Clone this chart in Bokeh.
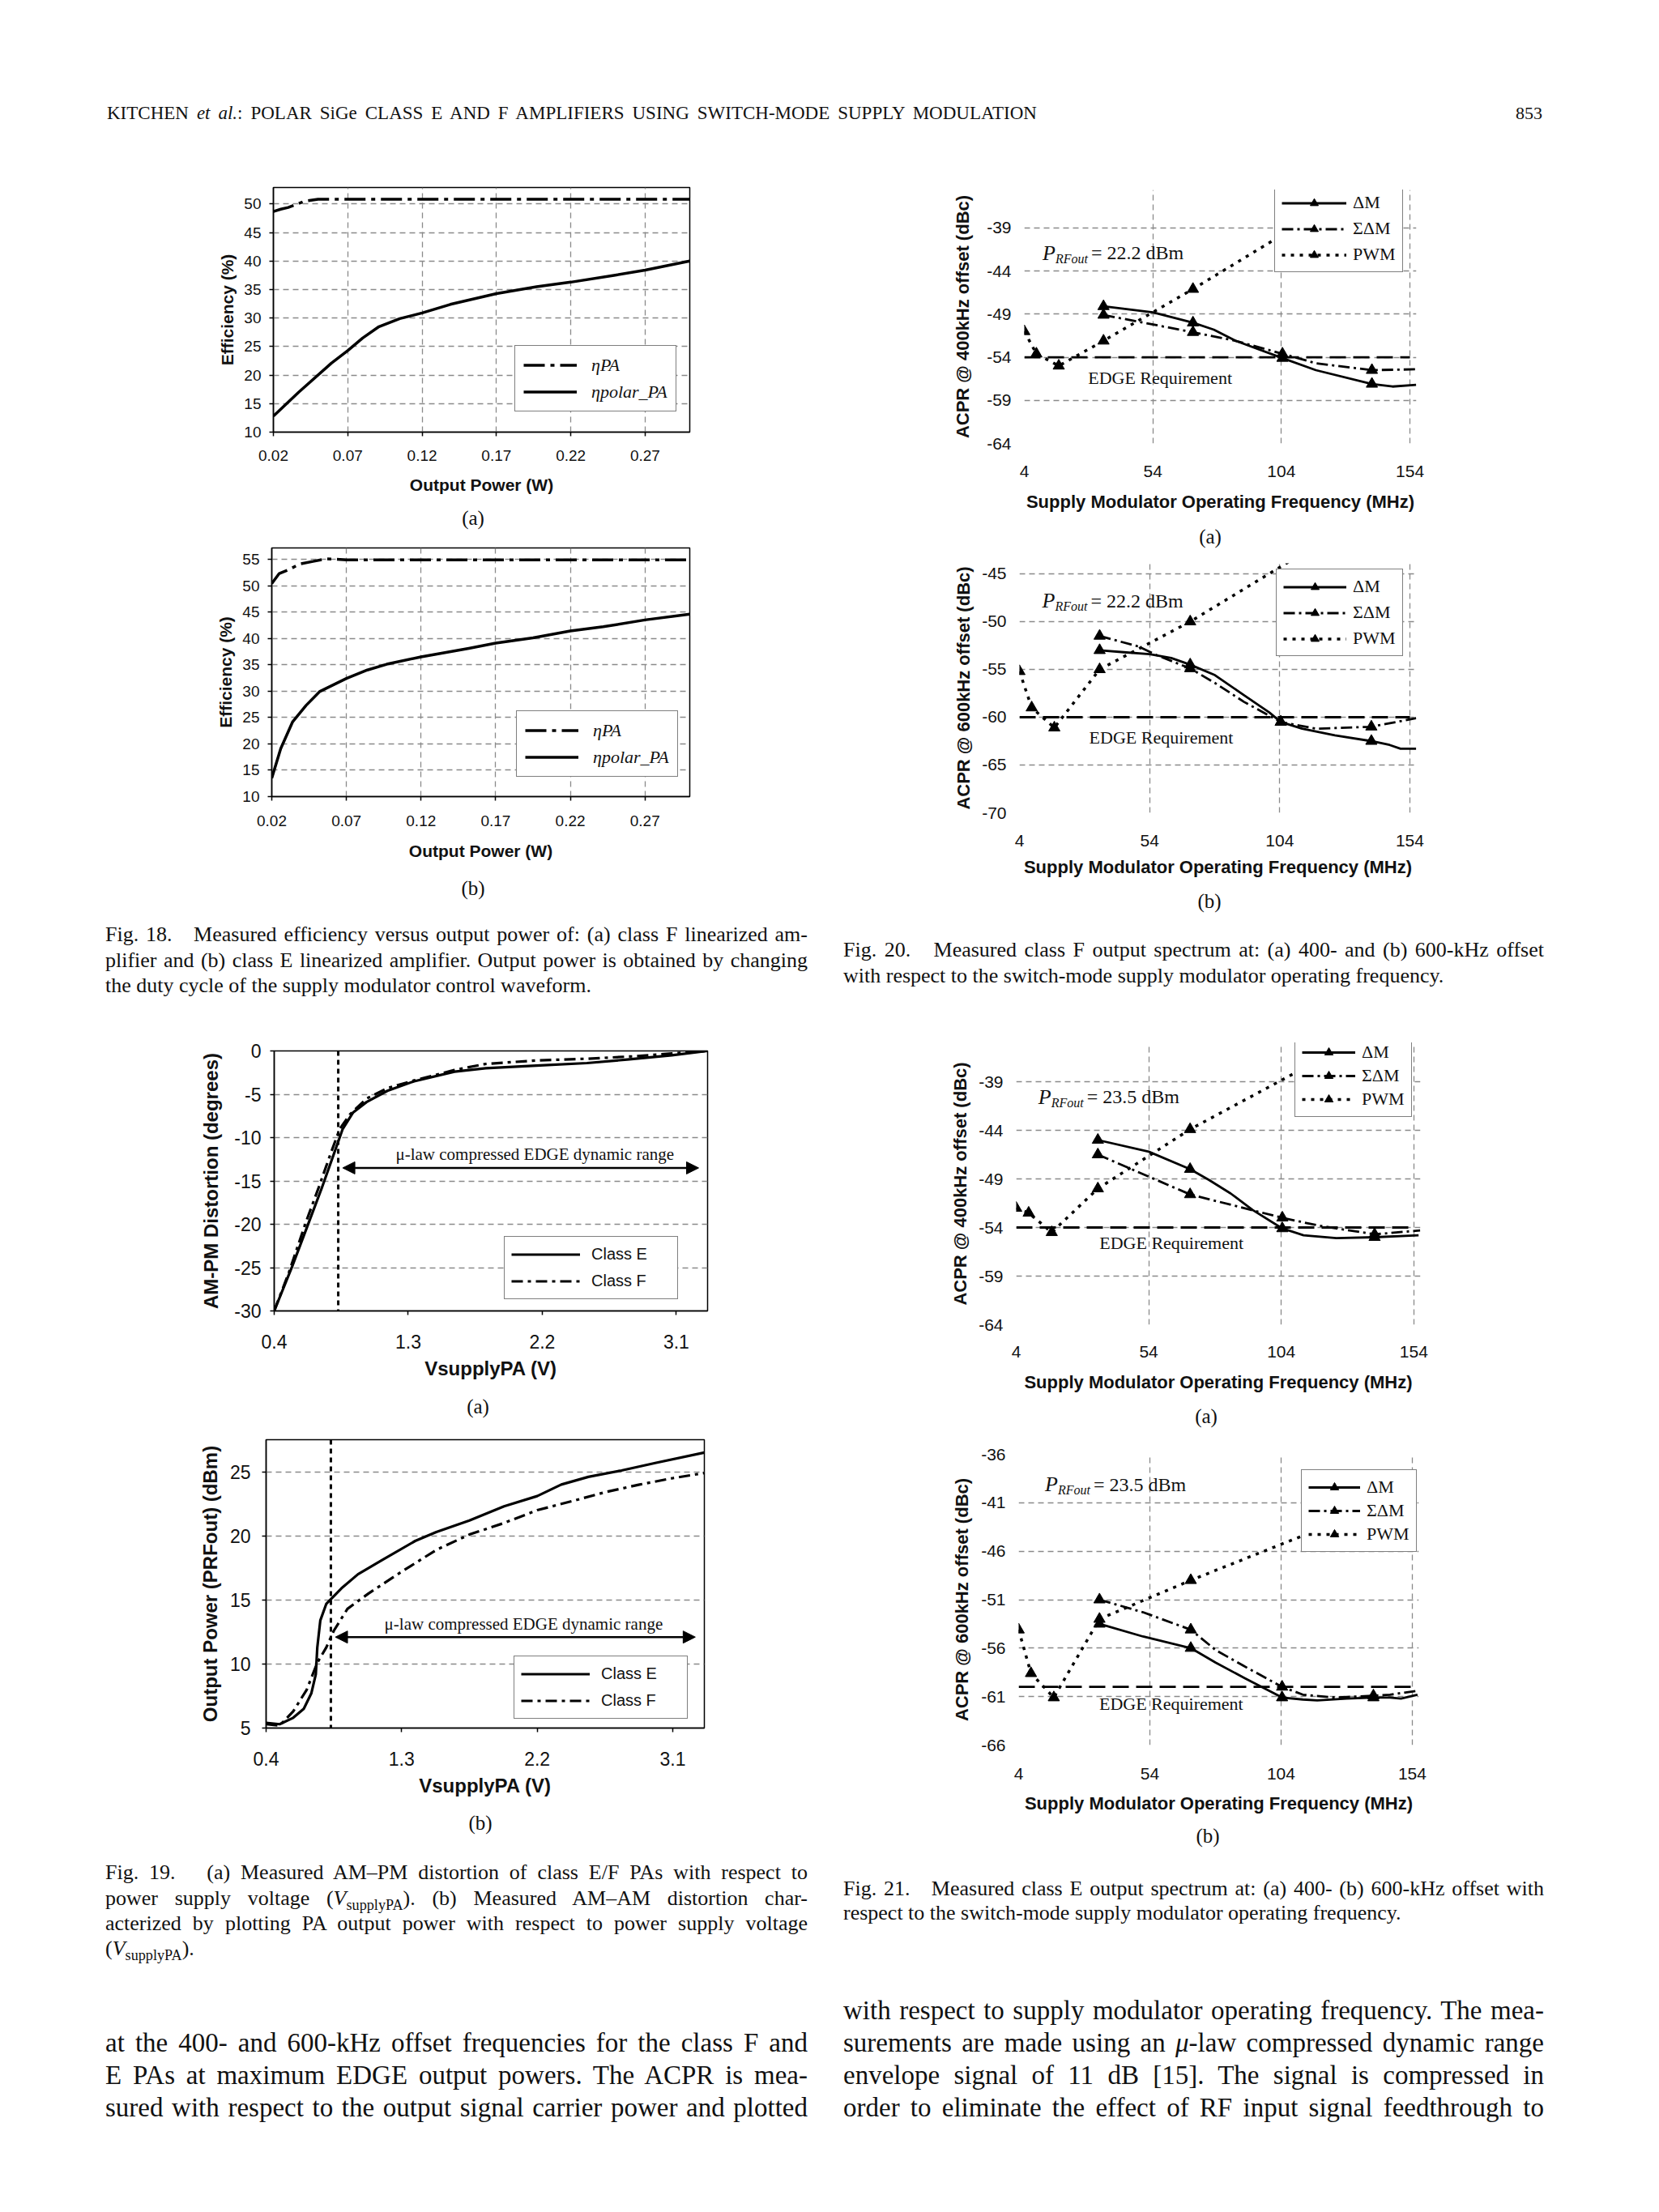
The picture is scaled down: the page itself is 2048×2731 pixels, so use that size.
from bokeh.plotting import figure
from bokeh.models import (Div, Legend, LegendItem, Label, Span, Arrow, NormalHead,
                          FixedTicker, PrintfTickFormatter, Range1d)
from bokeh.layouts import column, row
from bokeh.embed import file_html
from bokeh.resources import INLINE

SERIF = "Liberation Serif"
SANS = "Liberation Sans"
GRID_COLOR = "#8a8a8a"
GRID_DASH = "7 5"
INK = "#111111"

# ------------------------------------------------------------------ data
# Fig. 18 (efficiency vs output power)
f18_xticks = [0.02, 0.07, 0.12, 0.17, 0.22, 0.27]
f18a_yticks = [10, 15, 20, 25, 30, 35, 40, 45, 50]
f18b_yticks = [10, 15, 20, 25, 30, 35, 40, 45, 50, 55]
f18a_pa_x = [0.020, 0.025, 0.030, 0.035, 0.041, 0.050, 0.070, 0.120, 0.170, 0.220, 0.270, 0.300]
f18a_pa_y = [48.7, 49.1, 49.4, 49.9, 50.5, 50.85, 50.85, 50.85, 50.85, 50.85, 50.85, 50.85]
f18a_polar_x = [0.020, 0.037, 0.059, 0.070, 0.080, 0.091, 0.105, 0.120, 0.139, 0.170, 0.197, 0.220, 0.249, 0.270, 0.300]
f18a_polar_y = [12.8, 17.0, 22.1, 24.3, 26.5, 28.5, 29.9, 30.9, 32.4, 34.3, 35.5, 36.3, 37.5, 38.4, 40.0]
f18b_pa_x = [0.020, 0.025, 0.032, 0.0385, 0.0476, 0.0566, 0.070, 0.300]
f18b_pa_y = [50.4, 52.3, 53.1, 54.1, 54.6, 55.1, 54.9, 54.9]
f18b_polar_x = [0.020, 0.026, 0.034, 0.043, 0.052, 0.070, 0.084, 0.097, 0.120, 0.152, 0.170, 0.195, 0.220, 0.242, 0.270, 0.300]
f18b_polar_y = [13.5, 19.1, 24.2, 27.3, 29.9, 32.4, 34.0, 35.1, 36.5, 38.1, 39.1, 40.1, 41.4, 42.2, 43.5, 44.6]

# Fig. 19 (AM-PM and AM-AM vs supply voltage)
f19_xticks = [0.4, 1.3, 2.2, 3.1]
f19a_yticks = [-30, -25, -20, -15, -10, -5, 0]
f19b_yticks = [5, 10, 15, 20, 25]
f19a_e_x = [0.40, 0.52, 0.63, 0.72, 0.79, 0.86, 0.93, 1.02, 1.16, 1.34, 1.61, 1.82, 2.16, 2.50, 2.77, 3.07, 3.31]
f19a_e_y = [-30.0, -24.9, -19.9, -15.8, -12.4, -9.0, -7.1, -5.9, -4.6, -3.5, -2.4, -2.0, -1.7, -1.4, -1.0, -0.5, 0.0]
f19a_f_x = [0.40, 0.50, 0.61, 0.70, 0.78, 0.84, 0.91, 1.02, 1.16, 1.34, 1.61, 1.82, 2.16, 2.50, 2.84, 3.07, 3.31]
f19a_f_y = [-30.0, -25.5, -19.9, -15.7, -11.8, -9.0, -7.3, -5.5, -4.3, -3.4, -2.2, -1.5, -1.1, -0.9, -0.6, -0.3, 0.0]
f19b_e_x = [0.40, 0.49, 0.58, 0.65, 0.70, 0.73, 0.74, 0.76, 0.80, 0.90, 1.01, 1.17, 1.39, 1.53, 1.75, 1.98, 2.20, 2.36, 2.54, 2.76, 2.99, 3.31]
f19b_e_y = [5.4, 5.3, 5.8, 6.5, 7.7, 9.2, 11.3, 13.4, 14.7, 15.9, 17.0, 18.1, 19.6, 20.3, 21.2, 22.3, 23.1, 24.0, 24.6, 25.1, 25.7, 26.5]
f19b_f_x = [0.40, 0.49, 0.58, 0.67, 0.74, 0.80, 0.85, 0.94, 1.08, 1.30, 1.53, 1.75, 1.98, 2.20, 2.43, 2.65, 2.88, 3.10, 3.31]
f19b_f_y = [5.3, 5.2, 6.3, 8.0, 10.1, 11.3, 12.6, 14.3, 15.5, 17.2, 18.9, 20.1, 21.0, 22.0, 22.7, 23.4, 24.0, 24.5, 24.9]
f19a_mu_start, f19a_mu_end, f19a_mu_level = 0.86, 3.25, -13.5
f19b_mu_start, f19b_mu_end, f19b_mu_level = 0.86, 3.25, 12.1
f19a_vline = 0.83
f19b_vline = 0.83

# Fig. 20 / 21 (ACPR vs supply modulator frequency)
acpr_xticks = [4, 54, 104, 154]
f20a_yticks = [-64, -59, -54, -49, -44, -39]
f20b_yticks = [-70, -65, -60, -55, -50, -45]
f21a_yticks = [-64, -59, -54, -49, -44, -39]
f21b_yticks = [-66, -61, -56, -51, -46, -41, -36]
freq_dm = [34.8, 69.6, 104.4, 139.2]
freq_pwm = [4, 8.7, 17.4, 34.8, 69.6, 139.2]
edge_x = [4, 154]

f20a_dm_y = [-48.1, -50.0, -54.1, -57.1]
f20a_sdm_y = [-49.1, -51.1, -53.6, -55.5]
f20a_pwm_y = [-51.0, -53.6, -55.0, -52.1, -46.1, -33.5]
f20a_dm_cx = [34.8, 54, 69.6, 77.7, 86.2, 104.4, 117.4, 139.2, 147.2, 156.4]
f20a_dm_cy = [-48.1, -48.8, -50.0, -50.8, -52.1, -54.1, -55.5, -57.1, -57.4, -57.2]
f20a_sdm_cx = [34.8, 69.6, 86.2, 104.4, 117.4, 139.2, 156.4]
f20a_sdm_cy = [-49.1, -51.1, -52.1, -53.6, -54.7, -55.5, -55.4]
f20a_edge = -54

f20b_dm_y = [-53.0, -54.5, -60.5, -62.5]
f20b_sdm_y = [-51.5, -54.9, -60.5, -61.0]
f20b_pwm_y = [-55.2, -59.0, -61.1, -55.0, -50.0, -38.5]
f20b_dm_cx = [34.8, 44.1, 54, 62.3, 69.6, 79.1, 90.3, 100, 104.4, 112.6, 125.2, 139.2, 146.2, 150.4, 156.4]
f20b_dm_cy = [-53.0, -53.2, -53.4, -53.8, -54.5, -55.6, -57.7, -59.5, -60.5, -61.2, -61.9, -62.5, -62.9, -63.3, -63.3]
f20b_sdm_cx = [34.8, 49.7, 56.7, 69.6, 79.0, 90.3, 104.4, 118, 139.2, 156.4]
f20b_sdm_cy = [-51.5, -52.6, -53.5, -54.9, -56.4, -58.4, -60.5, -61.2, -61.0, -60.1]
f20b_edge = -60

f21a_dm_y = [-45.0, -48.0, -54.1, -55.0]
f21a_sdm_y = [-46.5, -50.6, -53.0, -54.7]
f21a_pwm_y = [-52.0, -52.5, -54.5, -50.0, -43.9, -33.7]
f21a_dm_cx = [34.8, 54, 69.6, 76.7, 84.9, 93.2, 104.4, 112.4, 124.8, 139.2, 155.8]
f21a_dm_cy = [-45.0, -46.2, -48.0, -49.1, -50.5, -52.2, -54.1, -54.8, -55.1, -55.0, -54.8]
f21a_sdm_cx = [34.8, 69.6, 104.4, 118, 139.2, 156.4]
f21a_sdm_cy = [-46.5, -50.6, -53.0, -53.8, -54.7, -54.3]
f21a_edge = -54

f21b_dm_y = [-53.5, -56.0, -61.1, -61.1]
f21b_sdm_y = [-51.0, -54.1, -60.0, -60.9]
f21b_pwm_y = [-54.1, -58.6, -61.1, -53.0, -49.0, -41.5]
f21b_dm_cx = [34.8, 51.4, 69.6, 79.1, 90.2, 104.4, 112.3, 117.8, 129, 139.2, 145.5, 149.7, 156]
f21b_dm_cy = [-53.5, -54.8, -56.0, -57.5, -59.1, -61.1, -61.3, -61.4, -61.2, -61.1, -61.1, -61.2, -60.8]
f21b_sdm_cx = [34.8, 51.4, 69.6, 79.1, 90.2, 104.4, 112.3, 124.8, 139.2, 145.5, 156]
f21b_sdm_cy = [-51.0, -52.3, -54.1, -56.2, -57.9, -60.0, -60.8, -61.1, -60.9, -60.8, -60.4]
f21b_edge = -60


# ------------------------------------------------------------------ helpers
def base_figure(x0, y0, w, h, frame, xr, yr):
    fl, ft, fr, fb = frame
    p = figure(width=w, height=h, x_range=Range1d(*xr), y_range=Range1d(*yr),
               output_backend="svg", toolbar_location=None,
               min_border_left=int(round(fl - x0)), min_border_right=int(round(x0 + w - fr)),
               min_border_top=int(round(ft - y0)), min_border_bottom=int(round(y0 + h - fb)))
    try:
        p.frame_align = False
    except Exception:
        pass
    p.background_fill_color = "white"
    p.border_fill_color = "white"
    p.outline_line_color = None
    return p


def setup_axis(ax, ticks, fmt, size, tick_out, standoff, label, label_size, label_standoff, line=True):
    ax.ticker = FixedTicker(ticks=ticks)
    ax.formatter = PrintfTickFormatter(format=fmt)
    ax.major_label_text_font = SANS
    ax.major_label_text_font_size = f"{size}px"
    ax.major_label_text_color = INK
    ax.axis_label = label
    ax.axis_label_text_font = SANS
    ax.axis_label_text_font_style = "bold"
    ax.axis_label_text_font_size = f"{label_size}px"
    ax.axis_label_text_color = INK
    ax.axis_label_standoff = label_standoff
    ax.minor_tick_line_color = None
    ax.major_tick_in = 0
    ax.major_label_standoff = standoff
    if line:
        ax.axis_line_color = "black"
        ax.axis_line_width = 1.5
        ax.major_tick_line_color = "black"
        ax.major_tick_line_width = 1.5
        ax.major_tick_out = tick_out
    else:
        ax.axis_line_color = None
        ax.major_tick_line_color = None
        ax.major_tick_out = 0


def setup_grid(p, xgrid=True, ygrid=True):
    p.xgrid[0].ticker = p.xaxis[0].ticker
    p.ygrid[0].ticker = p.yaxis[0].ticker
    for g, on in ((p.xgrid, xgrid), (p.ygrid, ygrid)):
        if on:
            g.grid_line_color = GRID_COLOR
            g.grid_line_dash = GRID_DASH
            g.grid_line_width = 1.3
        else:
            g.visible = False


def make_legend(p, items, loc, font, size, style, padding, spacing, row_h, glyph_w, standoff, label_w):
    leg = Legend(items=items, location=loc, orientation="vertical", margin=0,
                 padding=padding, spacing=spacing, glyph_height=row_h, label_height=row_h,
                 glyph_width=glyph_w, label_standoff=standoff, label_width=label_w,
                 border_line_color="black", border_line_width=1.5,
                 background_fill_color="white", background_fill_alpha=1.0,
                 label_text_font=font, label_text_font_size=f"{size}px",
                 label_text_font_style=style, label_text_color=INK)
    p.add_layout(leg)
    return leg


# ------------------------------------------------------------------ Fig. 18
def fig18(x0, y0, w, h, frame, yr, yticks, pa_x, pa_y, polar_x, polar_y, leg_loc, xstand, xlab_stand):
    p = base_figure(x0, y0, w, h, frame, (0.02, 0.30), yr)
    setup_axis(p.xaxis[0], f18_xticks, "%.2f", 19, 5, xstand, "Output Power (W)", 21, xlab_stand)
    setup_axis(p.yaxis[0], yticks, "%d", 19, 5, 10, "Efficiency (%)", 21, 6)
    setup_grid(p)
    p.outline_line_color = "black"
    p.outline_line_width = 1.5
    r_pa = p.line(pa_x, pa_y, line_width=3.5, color="black", line_dash="26 7 5 7")
    r_polar = p.line(polar_x, polar_y, line_width=3.5, color="black", line_join="round")
    make_legend(p, [LegendItem(label="ηPA", renderers=[r_pa]),
                    LegendItem(label="ηpolar_PA", renderers=[r_polar])],
                leg_loc, SERIF, 22, "italic", 10, 6, 27, 66, 18, 80)
    return p


# ------------------------------------------------------------------ Fig. 19
def fig19(x0, y0, w, h, frame, yr, yticks, e_x, e_y, f_x, f_y, vline, mu, text_xy,
          leg_loc, ylabel, ystand, ylab_stand, xstand, xlab_stand):
    p = base_figure(x0, y0, w, h, frame, (0.4, 3.31), yr)
    setup_axis(p.xaxis[0], f19_xticks, "%.1f", 23, 5, xstand, "VsupplyPA (V)", 24, xlab_stand)
    setup_axis(p.yaxis[0], yticks, "%d", 23, 5, ystand, ylabel, 24, ylab_stand)
    setup_grid(p, xgrid=False, ygrid=True)
    p.outline_line_color = "black"
    p.outline_line_width = 1.5
    r_e = p.line(e_x, e_y, line_width=3.2, color="black", line_join="round")
    r_f = p.line(f_x, f_y, line_width=3.2, color="black", line_dash="14 6 4 6")
    p.add_layout(Span(location=vline, dimension="height", line_color="black",
                      line_width=3, line_dash="6 5"))
    x_s, x_e, lev = mu
    p.add_layout(Arrow(start=NormalHead(size=15, fill_color="black", line_color="black"),
                       end=NormalHead(size=15, fill_color="black", line_color="black"),
                       x_start=x_s, y_start=lev, x_end=x_e, y_end=lev,
                       line_color="black", line_width=2.5))
    p.add_layout(Label(x=text_xy[0], y=text_xy[1], text="μ-law compressed EDGE dynamic range",
                       text_font=SERIF, text_font_size="21px", text_align="center",
                       text_baseline="middle", text_color=INK))
    make_legend(p, [LegendItem(label="Class E", renderers=[r_e]),
                    LegendItem(label="Class F", renderers=[r_f])],
                leg_loc, SANS, 20, "normal", 8, 6, 27, 85, 14, 98)
    return p


# ------------------------------------------------------------------ Fig. 20 / 21
def acpr(x0, y0, w, h, frame, yr, yticks, ylabel, xstand, xlab_stand, ylab_stand,
         dm_cx, dm_cy, sdm_cx, sdm_cy, dm_y, sdm_y, pwm_y, edge_level,
         prf_value, prf_xy, edge_xy, leg_loc, glyph_w, standoff, label_w, row_h, spacing):
    p = base_figure(x0, y0, w, h, frame, (4, 156.5), yr)
    setup_axis(p.xaxis[0], acpr_xticks, "%d", 21, 0, xstand, "Supply Modulator Operating Frequency (MHz)",
               22, xlab_stand, line=False)
    setup_axis(p.yaxis[0], yticks, "%d", 21, 0, 16, ylabel, 22, ylab_stand, line=False)
    setup_grid(p)
    edge_y = [edge_level, edge_level]
    p.line(edge_x, edge_y, line_width=2.8, color="black", line_dash="20 9")
    l_dm = p.line(dm_cx, dm_cy, line_width=2.8, color="black", line_join="round")
    s_dm = p.scatter(freq_dm, dm_y, marker="triangle", size=14, fill_color="black", line_color="black")
    l_sdm = p.line(sdm_cx, sdm_cy, line_width=2.8, color="black", line_dash="14 5 3 5")
    s_sdm = p.scatter(freq_dm, sdm_y, marker="triangle", size=14, fill_color="black", line_color="black")
    l_pwm = p.line(freq_pwm, pwm_y, line_width=3.5, color="black", line_dash="4 7")
    s_pwm = p.scatter(freq_pwm, pwm_y, marker="triangle", size=14, fill_color="black", line_color="black")
    # P_RFout annotation
    px_, py_ = prf_xy
    p.add_layout(Label(x=px_, y=py_, text="P", text_font=SERIF, text_font_style="italic",
                       text_font_size="26px", text_baseline="alphabetic", text_color=INK))
    p.add_layout(Label(x=px_, y=py_, x_offset=16, y_offset=-7, text="RFout", text_font=SERIF,
                       text_font_style="italic", text_font_size="16px",
                       text_baseline="alphabetic", text_color=INK))
    p.add_layout(Label(x=px_, y=py_, x_offset=60, text=f"= {prf_value} dBm", text_font=SERIF,
                       text_font_size="24px", text_baseline="alphabetic", text_color=INK))
    p.add_layout(Label(x=edge_xy[0], y=edge_xy[1], text="EDGE Requirement", text_font=SERIF,
                       text_font_size="22px", text_baseline="middle", text_color=INK))
    make_legend(p, [LegendItem(label="ΔM", renderers=[l_dm, s_dm]),
                    LegendItem(label="ΣΔM", renderers=[l_sdm, s_sdm]),
                    LegendItem(label="PWM", renderers=[l_pwm, s_pwm])],
                leg_loc, SERIF, 22, "normal", 8, spacing, row_h, glyph_w, standoff, label_w)
    return p


# ------------------------------------------------------------------ text helpers
def text_div(width, height, parts):
    html = (f'<div style="position:relative;width:{width}px;height:{height}px;overflow:visible;">'
            + "".join(parts) + "</div>")
    return Div(text=html, width=width, height=height, margin=0, styles={"overflow": "visible"})


def tline(left, yc, width, lh, size, html, justify=True):
    align = "text-align:justify;text-align-last:justify;" if justify else "text-align:left;"
    return (f'<div style="position:absolute;left:{left}px;top:{yc - lh / 2}px;width:{width}px;'
            f'height:{lh}px;line-height:{lh}px;font-family:\'{SERIF}\',serif;font-size:{size}px;'
            f'color:{INK};{align}">{html}</div>')


def tcenter(xc, yc, size, html):
    return (f'<div style="position:absolute;left:{xc - 100}px;top:{yc - 20}px;width:200px;height:40px;'
            f'line-height:40px;text-align:center;font-family:\'{SERIF}\',serif;font-size:{size}px;'
            f'color:{INK};">{html}</div>')


def tright(xr, yc, size, html):
    return (f'<div style="position:absolute;left:{xr - 200}px;top:{yc - 20}px;width:200px;height:40px;'
            f'line-height:40px;text-align:right;font-family:\'{SERIF}\',serif;font-size:{size}px;'
            f'color:{INK};">{html}</div>')


SUB = '<i>V</i><sub style="font-size:70%;line-height:0;">supplyPA</sub>'

# ------------------------------------------------------------------ build figures
LX, LW = 8, 1032
RX, RW = 1040, 1000

p18a = fig18(LX, 188, LW, 432, (345, 231, 859, 533), (10, 52.9), f18a_yticks,
             f18a_pa_x, f18a_pa_y, f18a_polar_x, f18a_polar_y, (298, 25), 17, 15)
p18b = fig18(LX, 665, LW, 405, (343, 676, 859, 983), (10, 57.15), f18b_yticks,
             f18b_pa_x, f18b_pa_y, f18b_polar_x, f18b_polar_y, (302, 24), 18, 16)

p19a = fig19(LX, 1280, LW, 440, (346, 1297, 881, 1618), (-30, 0), f19a_yticks,
             f19a_e_x, f19a_e_y, f19a_f_x, f19a_f_y, f19a_vline,
             (f19a_mu_start, f19a_mu_end, f19a_mu_level), (2.15, -11.9), (284, 14),
             "AM-PM Distortion (degrees)", 11, 12, 24, 8)
p19b = fig19(LX, 1760, LW, 470, (336, 1777, 877, 2133), (5, 27.5), f19b_yticks,
             f19b_e_x, f19b_e_y, f19b_f_x, f19b_f_y, f19b_vline,
             (f19b_mu_start, f19b_mu_end, f19b_mu_level), (2.11, 13.1), (306, 11),
             "Output Power (PRFout) (dBm)", 14, 8, 24, 8)

p20a = acpr(RX, 188, RW, 452, (1272, 234, 1756, 547), (-64, -34.6), f20a_yticks,
            "ACPR @ 400kHz offset (dBc)", 27, 15, 14,
            f20a_dm_cx, f20a_dm_cy, f20a_sdm_cx, f20a_sdm_cy, f20a_dm_y, f20a_sdm_y, f20a_pwm_y,
            f20a_edge, "22.2", (11.1, -41.9), (28.8, -56.4), (309, 211), 80, 8, 53, 25, 6)
p20b = acpr(RX, 680, RW, 410, (1266, 695, 1756, 1003), (-70, -43.9), f20b_yticks,
            "ACPR @ 600kHz offset (dBc)", 27, 10, 7,
            f20b_dm_cx, f20b_dm_cy, f20b_sdm_cx, f20b_sdm_cy, f20b_dm_y, f20b_sdm_y, f20b_pwm_y,
            f20b_edge, "22.2", (12.7, -47.8), (30.8, -62.1), (317, 193), 78, 8, 52, 25, 6)
p21a = acpr(RX, 1240, RW, 490, (1262, 1287, 1761, 1635), (-64, -35), f21a_yticks,
            "ACPR @ 400kHz offset (dBc)", 26, 15, 7,
            f21a_dm_cx, f21a_dm_cy, f21a_sdm_cx, f21a_sdm_cy, f21a_dm_y, f21a_sdm_y, f21a_pwm_y,
            f21a_edge, "23.5", (12.3, -40.55), (35.4, -55.6), (344, 256), 66, 8, 51, 26, 3)
p21b = acpr(RX, 1770, RW, 480, (1265, 1795, 1759, 2154), (-66, -36), f21b_yticks,
            "ACPR @ 600kHz offset (dBc)", 28, 14, 8,
            f21b_dm_cx, f21b_dm_cy, f21b_sdm_cx, f21b_sdm_cy, f21b_dm_y, f21b_sdm_y, f21b_pwm_y,
            f21b_edge, "23.5", (14.0, -39.1), (34.7, -61.7), (349, 238), 64, 8, 49, 26, 3)

# ------------------------------------------------------------------ texts
header = text_div(2032, 188, [
    tline(132, 140, 1148, 30, 23,
          "KITCHEN <i>et al.</i>: POLAR SiGe CLASS E AND F AMPLIFIERS USING SWITCH-MODE SUPPLY MODULATION"),
    tright(1904, 140, 22, "853"),
])

CAP = 26
LT, LTW = 130, 867      # left text column (local x, width)
RT, RTW = 9, 865        # right text column (local x, width)

d_a18 = text_div(LW, 45, [tcenter(584, 19.5, 25, "(a)")])
d_b18 = text_div(LW, 45, [tcenter(584, 26.5, 25, "(b)")])
cap18 = text_div(LW, 165, [
    tline(LT, 38, LTW, 31, CAP, "Fig. 18.&nbsp;&nbsp; Measured efficiency versus output power of: (a) class F linearized am-"),
    tline(LT, 70, LTW, 31, CAP, "plifier and (b) class E linearized amplifier. Output power is obtained by changing"),
    tline(LT, 101, LTW, 31, CAP, "the duty cycle of the supply modulator control waveform.", justify=False),
])
d_a19 = text_div(LW, 40, [tcenter(590, 17, 25, "(a)")])
d_b19 = text_div(LW, 40, [tcenter(593, 21, 25, "(b)")])
cap19 = text_div(LW, 170, [
    tline(LT, 41, LTW, 31, CAP, "Fig. 19.&nbsp;&nbsp; (a) Measured AM–PM distortion of class E/F PAs with respect to"),
    tline(LT, 73, LTW, 31, CAP, f"power supply voltage ({SUB}). (b) Measured AM–AM distortion char-"),
    tline(LT, 104, LTW, 31, CAP, "acterized by plotting PA output power with respect to power supply voltage"),
    tline(LT, 135, LTW, 31, CAP, f"({SUB}).", justify=False),
])
BODY = 33
body_l = text_div(LW, 275, [
    tline(LT, 82, LTW, 40, BODY, "at the 400- and 600-kHz offset frequencies for the class F and"),
    tline(LT, 122, LTW, 40, BODY, "E PAs at maximum EDGE output powers. The ACPR is mea-"),
    tline(LT, 162, LTW, 40, BODY, "sured with respect to the output signal carrier power and plotted"),
])

d_a20 = text_div(RW, 40, [tcenter(462, 22.5, 25, "(a)")])
d_b20 = text_div(RW, 45, [tcenter(461, 23, 25, "(b)")])
cap20 = text_div(RW, 105, [
    tline(RT, 37, RTW, 31, CAP, "Fig. 20.&nbsp;&nbsp; Measured class F output spectrum at: (a) 400- and (b) 600-kHz offset"),
    tline(RT, 69, RTW, 31, CAP, "with respect to the switch-mode supply modulator operating frequency.", justify=False),
])
d_a21 = text_div(RW, 40, [tcenter(457, 19, 25, "(a)")])
d_b21 = text_div(RW, 38, [tcenter(459, 17, 25, "(b)")])
cap21 = text_div(RW, 132, [
    tline(RT, 43, RTW, 31, CAP, "Fig. 21.&nbsp;&nbsp; Measured class E output spectrum at: (a) 400- (b) 600-kHz offset with"),
    tline(RT, 73, RTW, 31, CAP, "respect to the switch-mode supply modulator operating frequency.", justify=False),
])
body_r = text_div(RW, 295, [
    tline(RT, 62, RTW, 40, BODY, "with respect to supply modulator operating frequency. The mea-"),
    tline(RT, 102, RTW, 40, BODY, "surements are made using an <i>μ</i>-law compressed dynamic range"),
    tline(RT, 142, RTW, 40, BODY, "envelope signal of 11 dB [15]. The signal is compressed in"),
    tline(RT, 182, RTW, 40, BODY, "order to eliminate the effect of RF input signal feedthrough to"),
])

left_col = column(p18a, d_a18, p18b, d_b18, cap18, p19a, d_a19, p19b, d_b19, cap19, body_l)
right_col = column(p20a, d_a20, p20b, d_b20, cap20, p21a, d_a21, p21b, d_b21, cap21, body_r)
root = column(header, row(left_col, right_col))

open("out.html", "w").write(file_html(root, INLINE, "Kitchen et al. - page 853"))
